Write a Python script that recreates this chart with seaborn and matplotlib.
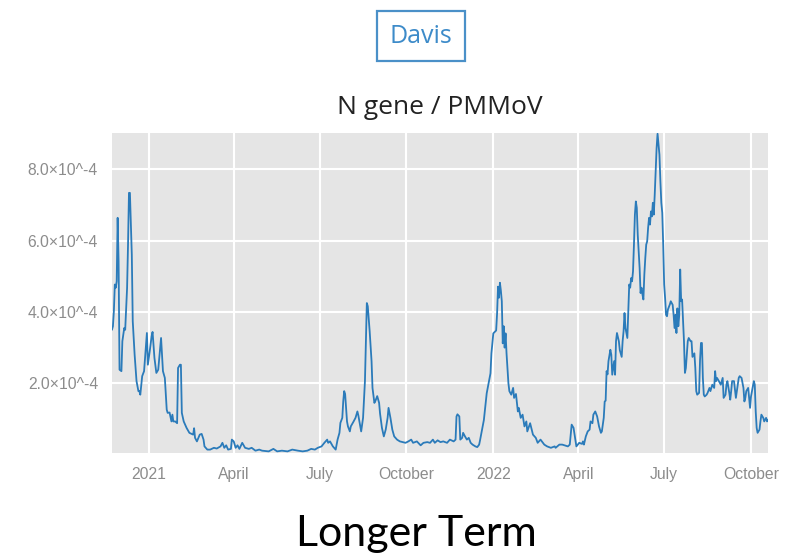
import matplotlib
matplotlib.use("Agg")
import matplotlib.pyplot as plt
import seaborn as sns
import pandas as pd
import numpy as np

# ---- data ----
start_date = "2020-11-23"
# day index since start_date
day = [0, 1, 2, 3, 4, 5, 6, 7, 8, 10, 11, 13, 14, 16, 17, 18, 19, 21, 22, 24, 26, 28, 29, 30, 32, 34,
       37, 38, 40, 42, 43, 45, 47, 49, 51, 52, 54, 56, 58, 59, 61, 63, 64, 65, 67, 69, 70, 72, 73, 74,
       76, 79, 82, 86, 87, 88, 90, 93, 95, 97,
       98, 101, 104, 108, 111, 115, 117, 119, 121, 123, 126, 127, 129, 131, 133, 135, 138, 141, 145,
       148, 152, 156, 159, 166, 171, 175, 180, 186, 191, 197,
       202, 207, 211, 215, 218, 222, 225, 228, 229, 231, 234, 237, 239, 241, 242, 244, 245, 246, 247,
       249, 250, 252, 253, 256, 258, 260, 261, 263, 264, 266, 268, 269, 270, 271, 273, 275, 276, 278,
       279, 281, 283, 284, 286, 288, 290, 292, 293, 295, 297,
       299, 302, 305, 311, 314, 317, 319, 323, 327, 330, 334, 337, 340, 342, 345, 348, 351, 355, 358,
       362, 364, 365, 366, 368, 369, 371, 372, 374, 376, 378, 380, 382, 385, 387, 389,
       390, 394, 397, 399, 401, 402, 404, 407, 408, 409, 410, 411, 412, 413, 414, 415, 416, 417, 418,
       420, 421, 423, 425, 426, 428, 430, 431, 433, 435, 437, 439, 440, 443, 446, 449, 451, 454, 458,
       461, 465, 469, 470, 474, 477, 483, 485, 487, 489, 492, 495,
       498, 499, 500, 502, 504, 506, 507, 509, 510, 512, 514, 516, 518, 519, 521, 522, 523, 524, 525,
       526, 528, 529, 530, 532, 533, 534, 535, 537, 538, 540, 541, 542, 543, 544, 546, 547, 548, 549,
       550, 551, 552, 553, 554, 555, 556, 557, 559, 560, 561, 562, 563, 564, 565, 566, 567, 568, 569,
       570, 571, 572, 573, 574, 575, 577, 578, 579, 580, 581, 582, 583, 584, 585, 586, 587, 588, 589,
       591, 592, 594,
       595, 596, 597, 598, 599, 600, 601, 602, 603, 604, 605, 606, 607, 608, 610, 611, 613, 614, 615,
       617, 618, 619, 620, 622, 623, 624, 625, 626, 627, 628, 630, 631, 633, 634, 636, 638, 639, 640,
       641, 643, 645, 647, 648, 650, 651, 652, 654, 655, 656, 657, 659, 661, 662, 664, 665, 667, 669,
       670, 671, 672, 674, 675, 676, 677, 679, 680, 681, 682, 683, 684, 686, 687, 688, 690, 691, 693,
       694, 695]
# N gene / PMMoV, in units of 1e-4
ratio_e4 = [3.50, 3.60, 4.02, 4.77, 4.68, 4.86, 6.64, 5.42, 2.38, 2.34, 3.18, 3.55, 3.50, 4.67, 5.89,
            7.34, 7.34, 5.61, 3.74, 2.80, 2.06, 1.78, 1.78, 1.68, 2.20, 2.34, 3.41, 2.52, 2.90, 3.32,
            3.44, 2.71, 2.29, 2.38, 2.99, 3.27, 2.34, 2.15, 1.26, 1.17, 1.18, 0.93, 1.12, 0.93, 0.93,
            0.88, 2.43, 2.52, 2.52, 1.17, 0.93, 0.75, 0.61, 0.56, 0.74, 0.47, 0.37, 0.56, 0.58, 0.42,
            0.23, 0.14, 0.14, 0.19, 0.17, 0.23, 0.33, 0.19, 0.26, 0.14, 0.16, 0.42, 0.37, 0.19, 0.26,
            0.16, 0.33, 0.19, 0.16, 0.19, 0.11, 0.14, 0.11, 0.09, 0.16, 0.09, 0.11, 0.09, 0.14, 0.11,
            0.09, 0.11, 0.16, 0.14, 0.19, 0.23, 0.33, 0.42, 0.33, 0.37, 0.23, 0.14, 0.42, 0.61, 0.89,
            1.03, 1.49, 1.78, 1.70, 0.93, 0.79, 0.65, 0.79, 0.93, 1.03, 1.21, 1.10, 0.79, 0.65, 1.03,
            2.06, 3.18, 4.25, 4.16, 3.46, 2.62, 1.87, 1.45, 1.50, 1.64, 1.45, 1.15, 0.75, 0.51, 0.70,
            1.03, 1.31, 1.03, 0.70,
            0.51, 0.42, 0.37, 0.33, 0.37, 0.42, 0.33, 0.37, 0.26, 0.33, 0.35, 0.33, 0.42, 0.33, 0.40,
            0.35, 0.37, 0.33, 0.42, 0.37, 0.42, 1.07, 1.13, 1.07, 0.42, 0.47, 0.61, 0.51, 0.42, 0.47,
            0.33, 0.28, 0.23, 0.21, 0.28,
            0.41, 0.97, 1.72, 2.00, 2.28, 2.84, 3.40, 3.48, 3.96, 4.71, 4.40, 4.82, 4.60, 4.30, 3.12,
            3.60, 3.00, 3.40, 2.84, 2.00, 1.78, 1.68, 1.87, 1.59, 1.70, 1.21, 1.31, 1.03, 1.12, 0.79,
            0.93, 0.65, 0.88, 0.56, 0.47, 0.33, 0.42, 0.28, 0.23, 0.19, 0.23, 0.19, 0.28, 0.28, 0.23,
            0.28, 0.84, 0.75, 0.23, 0.33,
            0.30, 0.37, 0.28, 0.51, 0.65, 0.70, 0.93, 0.88, 1.12, 1.21, 1.07, 0.79, 0.61, 0.65, 1.03,
            1.49, 1.51, 2.34, 2.25, 2.62, 2.94, 2.80, 2.24, 2.62, 2.24, 3.18, 3.41, 3.18, 2.93, 2.74,
            3.18, 3.46, 3.97, 3.55, 3.27, 4.02, 4.77, 4.68, 4.95, 4.86, 5.14, 5.89, 6.73, 7.10, 6.92,
            6.17, 5.23, 4.53, 4.68, 4.49, 4.35, 5.05, 5.51, 5.89, 5.98, 6.36, 6.64, 6.45, 6.82, 6.68,
            7.06, 6.73, 7.29, 8.60, 9.00, 8.69, 8.41, 7.67, 7.06, 6.78, 5.89, 4.77, 4.39, 3.92, 3.88,
            4.07, 4.21, 4.30, 4.20,
            3.92, 3.55, 3.92, 3.41, 4.10, 3.60, 3.92, 5.19, 4.30, 4.35, 3.74, 3.18, 2.29, 2.43, 3.18,
            3.27, 3.18, 3.18, 2.74, 2.84, 2.43, 1.78, 1.68, 1.73, 2.65, 3.13, 3.13, 2.15, 1.68, 1.63,
            1.68, 1.73, 1.87, 1.78, 1.96, 1.87, 2.34, 2.06, 2.15, 2.06, 1.96, 2.15, 1.59, 1.68, 1.96,
            2.06, 1.73, 1.54, 1.78, 2.06, 2.06, 1.59, 1.78, 2.15, 2.20, 2.15, 1.87, 1.49, 1.59, 1.78,
            1.87, 1.59, 1.31, 1.63, 1.92, 2.06, 1.96, 1.21, 0.75, 0.61, 0.70, 0.93, 1.12, 1.03, 0.93,
            1.03, 0.93, 0.98]

ytick_values = [2e-4, 4e-4, 6e-4, 8e-4]
ytick_labels = ["2.0×10^-4", "4.0×10^-4", "6.0×10^-4", "8.0×10^-4"]
xtick_dates = ["2021-01-01", "2021-04-01", "2021-07-01", "2021-10-01",
               "2022-01-01", "2022-04-01", "2022-07-01", "2022-10-01"]
xtick_labels = ["2021", "April", "July", "October", "2022", "April", "July", "October"]

# ---- build frame ----
dates = pd.Timestamp(start_date) + pd.to_timedelta(day, unit="D")
df = pd.DataFrame({"date": dates, "ratio": np.array(ratio_e4) * 1e-4})

sns.set_theme(style="darkgrid", rc={
    "axes.facecolor": "#e5e5e5",
    "grid.color": "white",
    "grid.linewidth": 1.5,
})
plt.rcParams["font.family"] = ["Liberation Sans", "DejaVu Sans"]

fig = plt.figure(figsize=(7.97, 5.58), dpi=100)
ax = fig.add_axes([0.1405, 0.1882, 0.8231, 0.5735])

sns.lineplot(data=df, x="date", y="ratio", ax=ax, color="#2b7bba", linewidth=1.3)

ax.set_xlim(df["date"].min(), df["date"].max())
ax.set_ylim(0.045e-4, 9.02e-4)
ax.set_yticks(ytick_values)
ax.set_yticklabels(ytick_labels)
ax.set_xticks(pd.to_datetime(xtick_dates))
ax.set_xticklabels(xtick_labels)
ax.set_xlabel("")
ax.set_ylabel("")
ax.tick_params(axis="both", length=0, labelsize=11.3, labelcolor="#8c8c8c")
ax.tick_params(axis="x", pad=10)
ax.tick_params(axis="y", pad=10)
for s in ax.spines.values():
    s.set_visible(False)

fig.text(0.552, 0.808, "N gene / PMMoV", ha="center", va="center",
         fontsize=19, color="#222222", family=["Open Sans", "DejaVu Sans"])
fig.text(0.528, 0.935, "Davis", ha="center", va="center", fontsize=18,
         color="#3d8bc9", family=["Open Sans", "DejaVu Sans"],
         bbox=dict(boxstyle="square,pad=0.5", facecolor="white",
                   edgecolor="#4a90c8", linewidth=1.6))
fig.text(0.522, 0.043, "Longer Term", ha="center", va="center", fontsize=31,
         color="black", family=["Lato", "DejaVu Sans"])

fig.savefig("out.png", dpi=100, facecolor="white")
